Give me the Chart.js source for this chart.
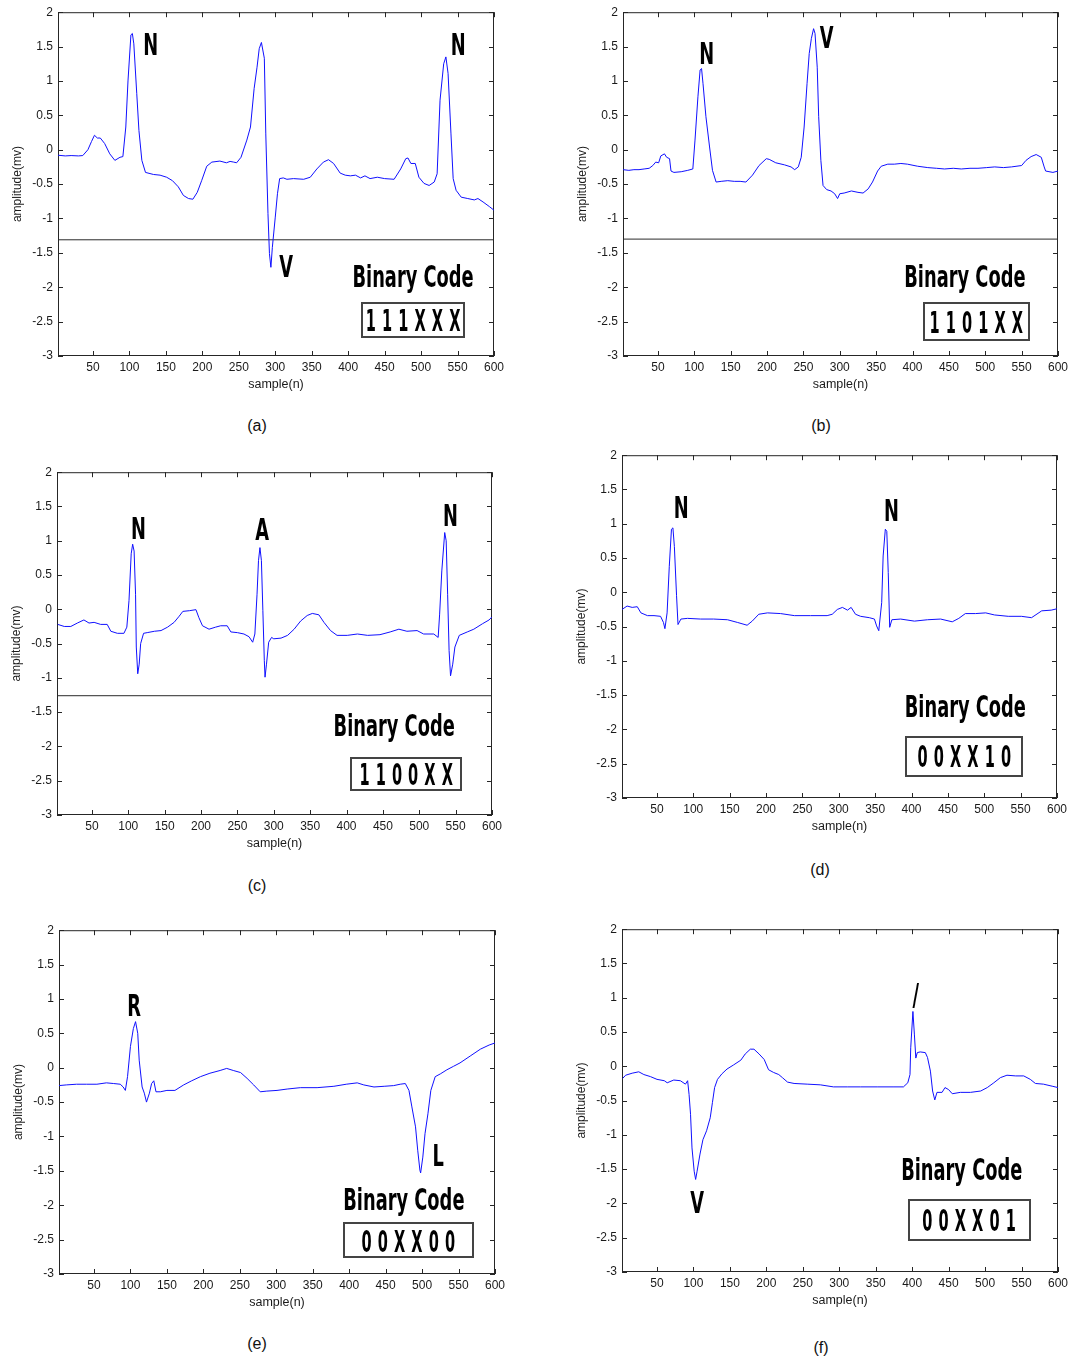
<!DOCTYPE html>
<html lang="en">
<head>
    <meta charset="UTF-8">
    <title>ECG beats and binary codes</title>
    <script src="https://cdn.jsdelivr.net/npm/chart.js"></script>
    <style>
        body {
            margin: 0;
            background: #fff;
            font-family: Arial, "Liberation Sans", sans-serif;
        }

        #page {
            position: relative;
            width: 1073px;
            height: 1359px;
        }

        #page canvas {
            position: absolute;
        }

        .caption {
            position: absolute;
            font-size: 16px;
            line-height: 1;
            color: #111;
            transform: translate(-50%, -50%);
        }
    </style>
</head>
<body>

<div id="page">
    <div class="caption" style="left:257px; top:426px;">(a)</div>
    <div class="caption" style="left:821px; top:426px;">(b)</div>
    <div class="caption" style="left:257px; top:886px;">(c)</div>
    <div class="caption" style="left:820px; top:870px;">(d)</div>
    <div class="caption" style="left:257px; top:1344px;">(e)</div>
    <div class="caption" style="left:821px; top:1348px;">(f)</div>
</div>

<script>
    // axis ticks shared by all six plots
    var sampleTicks = [50, 100, 150, 200, 250, 300, 350, 400, 450, 500, 550, 600];
    var ampTicks = [-3, -2.5, -2, -1.5, -1, -0.5, 0, 0.5, 1, 1.5, 2];

    // (a)
    var sampleA = [2, 12, 20, 30, 36, 43, 48, 52, 56, 60, 66, 73, 80, 87, 91, 95, 98, 102, 104, 106,
        110, 113, 117, 122, 133, 142, 151, 159, 167, 174, 181, 187, 193, 199, 206, 213, 224, 233, 238, 243,
        247, 253, 261, 266, 271, 275, 278, 281, 285, 287, 290, 292, 294, 296, 300, 303, 306, 311, 316, 325,
        339, 348, 357, 366, 373, 380, 389, 396, 403, 410, 417, 423, 430, 440, 450, 463, 472, 479, 482, 486,
        492, 497, 504, 511, 518, 522, 526, 531, 534, 537, 541, 544, 548, 555, 564, 573, 578, 585, 594, 600];
    var ampA = [-0.08, -0.09, -0.085, -0.09, -0.085, 0.0, 0.12, 0.21, 0.17, 0.17, 0.09, -0.06, -0.155, -0.11, -0.1, 0.33, 1.0, 1.67, 1.69, 1.54,
        0.82, 0.28, -0.155, -0.33, -0.36, -0.37, -0.40, -0.45, -0.54, -0.665, -0.71, -0.72, -0.62, -0.45, -0.24, -0.18, -0.165, -0.19, -0.17, -0.18,
        -0.19, -0.11, 0.14, 0.33, 0.89, 1.2, 1.47, 1.56, 1.33, 0.23, -0.93, -1.51, -1.71, -1.42, -0.98, -0.64, -0.42, -0.41, -0.43, -0.42,
        -0.43, -0.40, -0.28, -0.18, -0.145, -0.20, -0.34, -0.37, -0.38, -0.37, -0.41, -0.38, -0.42, -0.40, -0.42, -0.43, -0.28, -0.13, -0.12, -0.20,
        -0.20, -0.40, -0.49, -0.52, -0.47, -0.35, 0.72, 1.25, 1.35, 1.11, 0.23, -0.42, -0.59, -0.69, -0.71, -0.73, -0.71, -0.76, -0.83, -0.88];

    // (b)
    var sampleB = [2, 10, 17, 24, 31, 38, 43, 47, 51, 54, 59, 62, 66, 68, 72, 82, 91, 98, 101, 105,
        108, 110, 112, 116, 121, 125, 130, 137, 146, 155, 163, 171, 180, 189, 199, 203, 212, 224, 233, 238,
        243, 247, 251, 255, 258, 261, 264, 266, 269, 271, 274, 277, 282, 288, 293, 297, 300, 306, 316, 325,
        332, 339, 345, 352, 357, 366, 375, 384, 393, 407, 421, 433, 444, 456, 467, 479, 490, 502, 513, 525,
        536, 550, 556, 563, 570, 577, 581, 583, 593, 600];
    var ampB = [-0.29, -0.30, -0.29, -0.29, -0.28, -0.27, -0.23, -0.18, -0.19, -0.09, -0.06, -0.11, -0.13, -0.31, -0.33, -0.32, -0.30, -0.28, 0.14, 0.77,
        1.16, 1.18, 0.96, 0.48, 0.04, -0.30, -0.47, -0.46, -0.45, -0.46, -0.46, -0.47, -0.37, -0.23, -0.13, -0.14, -0.19, -0.22, -0.25, -0.29,
        -0.25, -0.11, 0.33, 0.96, 1.40, 1.62, 1.76, 1.69, 1.20, 0.48, -0.155, -0.52, -0.58, -0.60, -0.64, -0.71, -0.64, -0.63, -0.60, -0.62,
        -0.63, -0.57, -0.47, -0.31, -0.24, -0.21, -0.21, -0.20, -0.21, -0.24, -0.26, -0.27, -0.28, -0.27, -0.28, -0.27, -0.27, -0.26, -0.25, -0.26,
        -0.25, -0.23, -0.155, -0.10, -0.07, -0.11, -0.25, -0.31, -0.33, -0.31];

    // (c)
    var sampleC = [3, 12, 21, 30, 39, 46, 53, 62, 71, 76, 85, 94, 98, 101, 104, 106, 108, 110, 111, 113,
        115, 117, 121, 126, 136, 145, 154, 163, 170, 175, 184, 193, 197, 202, 211, 220, 227, 236, 241, 250,
        259, 266, 271, 274, 277, 279, 281, 283, 285, 287, 288, 290, 293, 297, 300, 310, 319, 328, 337, 346,
        353, 362, 369, 378, 387, 401, 415, 429, 446, 460, 472, 483, 497, 506, 520, 526, 528, 531, 535, 537,
        539, 541, 543, 546, 549, 555, 566, 575, 587, 596, 600];
    var ampC = [-0.22, -0.25, -0.25, -0.20, -0.155, -0.20, -0.19, -0.22, -0.22, -0.32, -0.35, -0.35, -0.26, 0.13, 0.81, 0.95, 0.85, 0.22, -0.55, -0.94,
        -0.80, -0.50, -0.35, -0.34, -0.32, -0.31, -0.26, -0.19, -0.10, -0.03, -0.02, -0.005, -0.12, -0.24, -0.29, -0.26, -0.24, -0.24, -0.33, -0.34,
        -0.36, -0.40, -0.48, -0.36, 0.22, 0.71, 0.90, 0.71, -0.02, -0.75, -0.99, -0.80, -0.48, -0.41, -0.43, -0.42, -0.38, -0.29, -0.17, -0.09,
        -0.06, -0.08, -0.19, -0.31, -0.38, -0.38, -0.36, -0.38, -0.37, -0.33, -0.29, -0.32, -0.31, -0.36, -0.36, -0.41, -0.07, 0.56, 1.12, 1.00,
        0.22, -0.60, -0.97, -0.80, -0.55, -0.38, -0.33, -0.29, -0.21, -0.155, -0.11];

    // (d)
    var sampleD = [2, 9, 16, 23, 28, 37, 46, 55, 59, 61, 64, 67, 70, 72, 74, 77, 79, 83, 92, 110,
        128, 147, 161, 174, 181, 190, 202, 220, 239, 261, 284, 291, 298, 305, 312, 317, 323, 330, 342, 349,
        352, 355, 359, 361, 364, 366, 368, 370, 373, 385, 404, 422, 440, 456, 465, 474, 488, 502, 514, 533,
        551, 565, 579, 592, 600];
    var ampD = [-0.25, -0.20, -0.22, -0.21, -0.30, -0.34, -0.34, -0.35, -0.44, -0.53, -0.30, 0.38, 0.92, 0.94, 0.67, -0.05, -0.47, -0.39, -0.38, -0.39,
        -0.39, -0.40, -0.44, -0.48, -0.42, -0.32, -0.30, -0.31, -0.34, -0.34, -0.34, -0.32, -0.25, -0.22, -0.26, -0.22, -0.32, -0.35, -0.37, -0.39,
        -0.49, -0.56, -0.15, 0.53, 0.92, 0.89, 0.29, -0.51, -0.40, -0.39, -0.42, -0.40, -0.39, -0.43, -0.38, -0.31, -0.31, -0.30, -0.33, -0.35,
        -0.35, -0.37, -0.27, -0.26, -0.24];

    // (e)
    var sampleE = [2, 12, 26, 40, 54, 67, 77, 86, 90, 93, 96, 100, 104, 107, 110, 112, 116, 119, 122, 126,
        129, 132, 135, 141, 150, 161, 173, 184, 196, 209, 223, 232, 241, 251, 260, 269, 278, 287, 301, 315,
        333, 356, 379, 396, 411, 420, 434, 448, 461, 470, 477, 482, 486, 491, 494, 497, 498, 501, 504, 508,
        512, 518, 525, 534, 543, 552, 566, 580, 592, 600];
    var ampE = [-0.26, -0.25, -0.24, -0.24, -0.24, -0.22, -0.23, -0.24, -0.28, -0.33, -0.13, 0.31, 0.57, 0.67, 0.50, 0.11, -0.28, -0.37, -0.50, -0.37,
        -0.23, -0.19, -0.35, -0.35, -0.33, -0.33, -0.25, -0.19, -0.13, -0.08, -0.04, -0.01, -0.04, -0.07, -0.155, -0.25, -0.35, -0.34, -0.33, -0.31,
        -0.29, -0.29, -0.27, -0.24, -0.22, -0.25, -0.28, -0.27, -0.26, -0.24, -0.23, -0.33, -0.57, -0.86, -1.20, -1.49, -1.53, -1.30, -0.96, -0.67,
        -0.33, -0.13, -0.09, -0.03, 0.02, 0.07, 0.17, 0.27, 0.33, 0.36];

    // (f)
    var sampleF = [3, 7, 16, 25, 32, 41, 50, 60, 64, 73, 82, 89, 92, 94, 96, 98, 101, 103, 105, 109,
        113, 118, 123, 126, 129, 133, 139, 146, 155, 165, 171, 178, 183, 190, 197, 203, 210, 217, 222, 229,
        238, 256, 274, 292, 311, 329, 352, 375, 388, 394, 397, 398, 401, 403, 405, 407, 411, 418, 421, 425,
        428, 431, 434, 441, 445, 450, 455, 466, 480, 494, 503, 512, 521, 530, 542, 553, 562, 569, 580, 592,
        600];
    var ampF = [-0.175, -0.13, -0.10, -0.08, -0.12, -0.15, -0.19, -0.21, -0.24, -0.20, -0.21, -0.26, -0.21, -0.41, -0.70, -1.19, -1.53, -1.65, -1.53, -1.28,
        -1.07, -0.94, -0.75, -0.53, -0.31, -0.19, -0.11, -0.04, 0.02, 0.09, 0.18, 0.25, 0.25, 0.18, 0.10, -0.05, -0.09, -0.12, -0.165, -0.23,
        -0.25, -0.26, -0.27, -0.30, -0.30, -0.30, -0.30, -0.30, -0.30, -0.24, -0.12, 0.27, 0.80, 0.47, 0.12, 0.20, 0.21, 0.20, 0.13, -0.07,
        -0.36, -0.49, -0.38, -0.38, -0.31, -0.34, -0.40, -0.38, -0.38, -0.36, -0.31, -0.24, -0.165, -0.13, -0.14, -0.14, -0.19, -0.25, -0.26, -0.29,
        -0.31];

    // black threshold line (only a, b, c have it)
    var cutLevels = [-1.31, -1.30, -1.26, null, null, null];

    // beat labels: [text, sample, amplitude]
    var beatsA = [['N', 129, 1.54], ['V', 315, -1.68], ['N', 551, 1.54]];
    var beatsB = [['N', 117, 1.41], ['V', 282, 1.65]];
    var beatsC = [['N', 114, 1.19], ['A', 284, 1.17], ['N', 543, 1.38]];
    var beatsD = [['N', 83.5, 1.25], ['N', 372.5, 1.21]];
    var beatsE = [['R', 105, 0.91], ['L', 522, -1.27]];
    var beatsF = [['V', 105, -1.97], ['/', 405, 1.06]];

    var codes = ['111XXX', '1101XX', '1100XX', '00XX10', '00XX00', '00XX01'];

    // placement of each plot on the page and of its "Binary Code" block
    var panels = [
        {id: 'chartA', left: 58, top: 12, w: 436, h: 344, xs: sampleA, ys: ampA, beats: beatsA,
            title: [489, -1.825], box: [489, -2.47], boxW: 102, boxH: 34},
        {id: 'chartB', left: 623, top: 12, w: 435, h: 344, xs: sampleB, ys: ampB, beats: beatsB,
            title: [472, -1.83], box: [487.6, -2.5], boxW: 105, boxH: 37},
        {id: 'chartC', left: 57, top: 472, w: 435, h: 343, xs: sampleC, ys: ampC, beats: beatsC,
            title: [465.5, -1.69], box: [482, -2.40], boxW: 110, boxH: 32},
        {id: 'chartD', left: 622, top: 455, w: 435, h: 343, xs: sampleD, ys: ampD, beats: beatsD,
            title: [474, -1.655], box: [472.5, -2.39], boxW: 116, boxH: 39},
        {id: 'chartE', left: 59, top: 930, w: 436, h: 344, xs: sampleE, ys: ampE, beats: beatsE,
            title: [475, -1.90], box: [481, -2.51], boxW: 129, boxH: 34},
        {id: 'chartF', left: 622, top: 929, w: 436, h: 343, xs: sampleF, ys: ampF, beats: beatsF,
            title: [468, -1.49], box: [478, -2.24], boxW: 121, boxH: 40}
    ];
    var panelById = {};

    var AXIS_W = 58, AXIS_H = 45, PAD_TOP = 12, PAD_RIGHT = 16;
    var noteFont = 'bold 31px "DejaVu Sans", sans-serif';
    var capHalf = 11.3;
    var axisColor = '#262626';

    function drawNote(ctx, text, cx, cy, squash, spacing) {
        spacing = spacing || 0;
        ctx.save();
        ctx.translate(cx, cy + capHalf);
        ctx.scale(squash, 1);
        ctx.font = noteFont;
        ctx.letterSpacing = spacing + 'px';
        ctx.textAlign = 'center';
        ctx.textBaseline = 'alphabetic';
        ctx.fillStyle = '#000';
        ctx.fillText(text, spacing / 2, 0);
        ctx.restore();
    }

    // MATLAB style box with inward ticks, plus the text annotations
    var matlabAxes = {
        id: 'matlabAxes',
        beforeDatasetsDraw: function (chart) {
            var ctx = chart.ctx, a = chart.chartArea;
            var sx = chart.scales.x, sy = chart.scales.y;
            ctx.save();
            ctx.strokeStyle = axisColor;
            ctx.lineWidth = 1;
            ctx.beginPath();
            sampleTicks.forEach(function (v) {
                var px = Math.round(sx.getPixelForValue(v)) + 0.5;
                ctx.moveTo(px, a.bottom); ctx.lineTo(px, a.bottom - 5);
                ctx.moveTo(px, a.top); ctx.lineTo(px, a.top + 5);
            });
            ampTicks.forEach(function (v) {
                var py = Math.round(sy.getPixelForValue(v)) + 0.5;
                ctx.moveTo(a.left, py); ctx.lineTo(a.left + 5, py);
                ctx.moveTo(a.right, py); ctx.lineTo(a.right - 5, py);
            });
            ctx.stroke();
            ctx.strokeRect(a.left + 0.5, a.top + 0.5, a.right - a.left - 1, a.bottom - a.top - 1);
            ctx.restore();
        },
        afterDatasetsDraw: function (chart) {
            var p = panelById[chart.canvas.id];
            if (!p) return;
            var ctx = chart.ctx;
            var sx = chart.scales.x, sy = chart.scales.y;
            p.beats.forEach(function (b) {
                drawNote(ctx, b[0], sx.getPixelForValue(b[1]), sy.getPixelForValue(b[2]), 0.575);
            });
            drawNote(ctx, 'Binary Code', sx.getPixelForValue(p.title[0]), sy.getPixelForValue(p.title[1]), 0.575);

            var bx = sx.getPixelForValue(p.box[0]), by = sy.getPixelForValue(p.box[1]);
            ctx.save();
            ctx.strokeStyle = '#444';
            ctx.lineWidth = 2;
            ctx.strokeRect(Math.round(bx - p.boxW / 2), Math.round(by - p.boxH / 2), p.boxW, p.boxH);
            ctx.restore();
            drawNote(ctx, p.code, bx, by, 0.47, 13);
        }
    };

    var page = document.getElementById('page');

    panels.forEach(function (p, i) {
        p.code = codes[i];
        panelById[p.id] = p;

        var canvas = document.createElement('canvas');
        canvas.id = p.id;
        canvas.width = p.w + AXIS_W + PAD_RIGHT;
        canvas.height = p.h + PAD_TOP + AXIS_H;
        canvas.style.left = (p.left - AXIS_W) + 'px';
        canvas.style.top = (p.top - PAD_TOP) + 'px';
        page.appendChild(canvas);

        var datasets = [{
            data: p.xs.map(function (x, k) { return {x: x, y: p.ys[k]}; }),
            borderColor: '#1010ff',
            borderWidth: 1,
            pointRadius: 0,
            tension: 0,
            fill: false
        }];
        if (cutLevels[i] !== null) {
            datasets.push({
                data: [{x: 2, y: cutLevels[i]}, {x: 600, y: cutLevels[i]}],
                borderColor: '#2a2a2a',
                borderWidth: 1,
                pointRadius: 0,
                fill: false
            });
        }

        new Chart(canvas.getContext('2d'), {
            type: 'line',
            data: {datasets: datasets},
            options: {
                responsive: false,
                animation: false,
                layout: {padding: {left: 0, top: PAD_TOP, right: PAD_RIGHT, bottom: 0}},
                plugins: {legend: {display: false}, tooltip: {enabled: false}},
                scales: {
                    x: {
                        type: 'linear',
                        min: 2,
                        max: 600,
                        grid: {display: false, drawTicks: false},
                        border: {display: false},
                        afterBuildTicks: function (s) {
                            s.ticks = sampleTicks.map(function (v) { return {value: v}; });
                        },
                        afterFit: function (s) { s.height = AXIS_H; },
                        ticks: {
                            autoSkip: false,
                            maxRotation: 0,
                            padding: 4,
                            color: '#1a1a1a',
                            font: {family: 'Arial, "Liberation Sans", sans-serif', size: 12},
                            callback: function (v) { return String(v); }
                        },
                        title: {
                            display: true,
                            text: 'sample(n)',
                            color: '#1a1a1a',
                            font: {family: 'Arial, "Liberation Sans", sans-serif', size: 12.5},
                            padding: {top: 0, bottom: 8.5}
                        }
                    },
                    y: {
                        type: 'linear',
                        min: -3,
                        max: 2,
                        grid: {display: false, drawTicks: false},
                        border: {display: false},
                        afterBuildTicks: function (s) {
                            s.ticks = ampTicks.map(function (v) { return {value: v}; });
                        },
                        afterFit: function (s) { s.width = AXIS_W; },
                        ticks: {
                            autoSkip: false,
                            padding: 5,
                            color: '#1a1a1a',
                            font: {family: 'Arial, "Liberation Sans", sans-serif', size: 12},
                            callback: function (v) { return String(v); }
                        },
                        title: {
                            display: true,
                            text: 'amplitude(mv)',
                            color: '#1a1a1a',
                            font: {family: 'Arial, "Liberation Sans", sans-serif', size: 12},
                            padding: {top: 10, bottom: 0}
                        }
                    }
                }
            },
            plugins: [matlabAxes]
        });
    });
</script>

</body>
</html>
